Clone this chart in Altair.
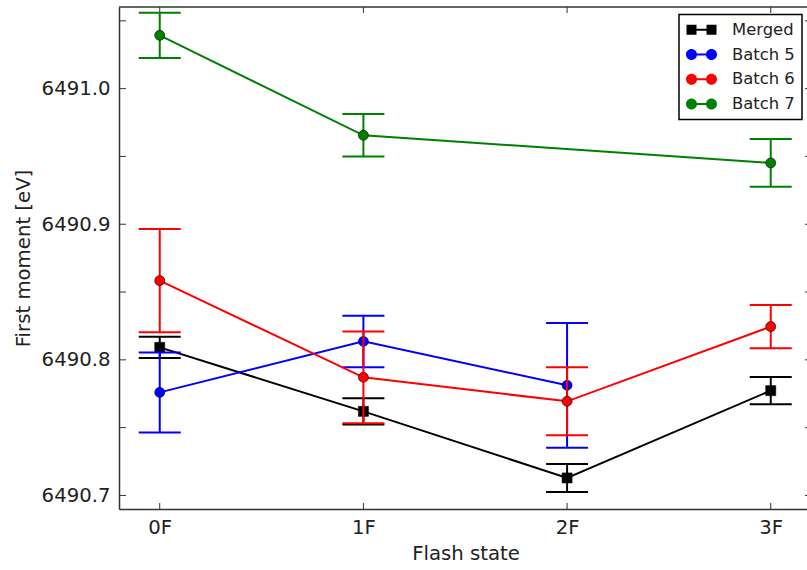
import json
import altair as alt
import pandas as pd

# ---------------- data ----------------
states = ["0F", "1F", "2F", "3F"]
series_names = ["Merged", "Batch 5", "Batch 6", "Batch 7"]
series_colors = ["#000000", "#0000ff", "#ff0000", "#008000"]

merged_mean = [6490.8092, 6490.7620, 6490.7129, 6490.7773]
merged_err = [0.0079, 0.0096, 0.0103, 0.0101]

batch5_mean = [6490.7760, 6490.8136, 6490.7812, None]
batch5_err = [0.0295, 0.0190, 0.0460, None]

batch6_mean = [6490.8584, 6490.7871, 6490.7694, 6490.8245]
batch6_err = [0.0381, 0.0338, 0.0251, 0.0160]

batch7_mean = [6491.0393, 6490.9656, None, 6490.9452]
batch7_err = [0.0167, 0.0157, None, 0.0176]

y_label_values = [6490.7, 6490.8, 6490.9, 6491.0]
y_tick_values = [6490.70, 6490.75, 6490.80, 6490.85, 6490.90, 6490.95, 6491.00, 6491.05]
x_tick_values = [0, 1, 2, 3]

means = [merged_mean, batch5_mean, batch6_mean, batch7_mean]
errs = [merged_err, batch5_err, batch6_err, batch7_err]

rows = []
for name, m_list, e_list in zip(series_names, means, errs):
    for i, (m, e) in enumerate(zip(m_list, e_list)):
        if m is None:
            continue
        rows.append({"series": name, "state": states[i], "pos": i,
                     "mean": m, "lo": m - e, "hi": m + e})
df = pd.DataFrame(rows)
ytick_df = pd.DataFrame({"v": y_tick_values})
xtick_df = pd.DataFrame({"p": x_tick_values})
one_df = pd.DataFrame({"a": [0]})

# ---------------- styling ----------------
W, H = 688, 502
FONT = "DejaVu Sans"
TXT = "#222222"
SPINE = "#333333"
xdom = [-0.2, 3.178]
ydom = [6490.69, 6491.0602]

xscale = alt.Scale(domain=xdom, nice=False, zero=False)
yscale = alt.Scale(domain=ydom, nice=False, zero=False)

label_expr = json.dumps(states) + "[datum.value]"

x_axis = alt.Axis(values=x_tick_values, labelExpr=label_expr, title="Flash state",
                  ticks=False, tickSize=0, grid=False, domain=True,
                  domainColor=SPINE, domainWidth=1.5, labelPadding=8,
                  labelFontSize=19.7, labelColor=TXT, titleFontSize=19.7,
                  titleColor=TXT, titleFontWeight="normal", titleBaseline="alphabetic",
                  titleX=346.5, titleY=50.5, titleAnchor="middle", labelFlush=False,
                  labelOverlap=False)
y_axis = alt.Axis(values=y_label_values, format=".1f", title="First moment [eV]",
                  ticks=False, tickSize=0, grid=False, domain=True,
                  domainColor=SPINE, domainWidth=1.5, labelPadding=9,
                  labelFontSize=19.7, labelColor=TXT, titleFontSize=19.7,
                  titleColor=TXT, titleFontWeight="normal", titleBaseline="alphabetic",
                  titleX=-89.6, titleY=251, titleAngle=-90, labelFlush=False,
                  labelOverlap=False)


def X(field):
    return alt.X(field, type="quantitative", scale=xscale, axis=x_axis)


def Y(field):
    return alt.Y(field, type="quantitative", scale=yscale, axis=y_axis)


layers = []

# top spine
layers.append(
    alt.Chart(one_df).mark_rule(color=SPINE, strokeWidth=1.5).encode(
        x=alt.value(0), x2=alt.value(W), y=alt.value(0))
)
# inward ticks
layers.append(alt.Chart(ytick_df).mark_rule(color=SPINE, strokeWidth=1).encode(
    y=Y("v"), x=alt.value(0), x2=alt.value(7)))
layers.append(alt.Chart(ytick_df).mark_rule(color=SPINE, strokeWidth=1).encode(
    y=Y("v"), x=alt.value(W - 2), x2=alt.value(W + 5)))
layers.append(alt.Chart(xtick_df).mark_rule(color=SPINE, strokeWidth=1).encode(
    x=X("p"), y=alt.value(H), y2=alt.value(H - 6)))
layers.append(alt.Chart(xtick_df).mark_rule(color=SPINE, strokeWidth=1).encode(
    x=X("p"), y=alt.value(0), y2=alt.value(6)))

# series
for name, col in zip(series_names, series_colors):
    base = alt.Chart(df).transform_filter(alt.datum.series == name)
    layers.append(base.mark_line(color=col, strokeWidth=2).encode(
        x=X("pos"), y=Y("mean"), order="pos:Q"))
    layers.append(base.mark_rule(color=col, strokeWidth=2).encode(
        x=X("pos"), y=Y("lo"), y2="hi:Q"))
    for f in ["lo", "hi"]:
        layers.append(base.mark_tick(orient="horizontal", size=42, thickness=2,
                                     color=col, opacity=1).encode(
            x=X("pos"), y=Y(f)))
    if name == "Merged":
        pm = base.mark_square(size=100, color=col, opacity=1, stroke="#000000",
                              strokeWidth=0.6)
    else:
        pm = base.mark_circle(size=100, color=col, opacity=1, stroke="#000000",
                              strokeWidth=0.6)
    layers.append(pm.encode(x=X("pos"), y=Y("mean")))

# legend symbols: line with two markers (unit = 8px)
r = 0.6875
def circ(c):
    return f"M{c},{-r}A{r},{r} 0 1,1 {c},{r}A{r},{r} 0 1,1 {c},{-r}Z"
bar_path = "M-0.6,-0.125H0.6V0.125H-0.6Z"
sq_path = "M-1.875,-0.625H-0.625V0.625H-1.875Z" + "M0.625,-0.625H1.875V0.625H0.625Z"
circle_sym = circ(-1.25) + circ(1.25) + bar_path
square_sym = sq_path + "M-0.7,-0.125H0.7V0.125H-0.7Z"
sym_paths = [square_sym, circle_sym, circle_sym, circle_sym]

leg = dict(title=None, orient="none", legendX=560, legendY=7.6, direction="vertical")
layers.append(
    alt.Chart(df).transform_filter("false").mark_point(filled=True, opacity=1).encode(
        x=X("pos"), y=Y("mean"),
        color=alt.Color("series:N", scale=alt.Scale(domain=series_names, range=series_colors),
                        legend=alt.Legend(**leg)),
        shape=alt.Shape("series:N", scale=alt.Scale(domain=series_names, range=sym_paths),
                        legend=alt.Legend(**leg)),
    )
)

chart = alt.layer(*layers).properties(
    width=W, height=H,
    autosize=alt.AutoSizeParams(type="none"),
    padding={"left": 119, "top": 7, "right": 0, "bottom": 61},
).configure(font=FONT).configure_view(stroke=None).configure_legend(
    labelFontSize=16.4, labelColor=TXT, labelFont=FONT,
    symbolSize=256, symbolStrokeWidth=0, symbolOpacity=1,
    padding=7, rowPadding=7.7, symbolOffset=7.3, labelOffset=22.3,
    strokeColor="#000000", strokeWidth=1.5, fillColor="#ffffff", cornerRadius=0,
)

chart.save("out.html", embed_options={"renderer": "svg", "actions": False})
